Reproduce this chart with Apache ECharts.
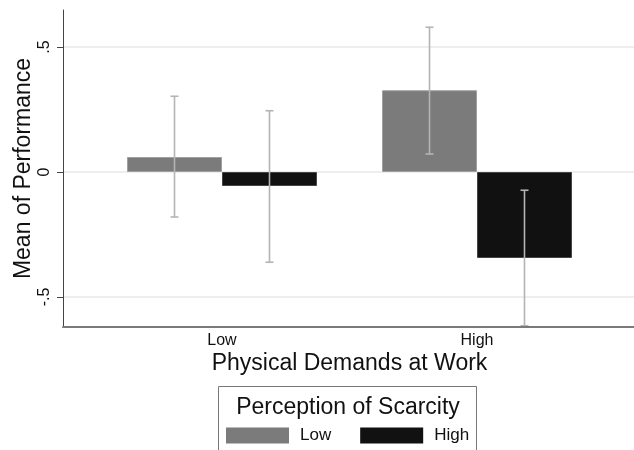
<!DOCTYPE html>
<html>
<head>
<meta charset="utf-8">
<script src="https://cdn.jsdelivr.net/npm/echarts@6/dist/echarts.min.js"></script>
<style>html,body{margin:0;padding:0;background:#fff}#c{width:634px;height:450px}</style>
</head>
<body>
<div id="c"></div>
<script>
var categories = ['Low', 'High'];
var seriesNames = ['Low', 'High'];
var lowScarcityMean = [0.06, 0.327];
var highScarcityMean = [-0.056, -0.344];
var lowScarcityCILow = [-0.18, 0.072];
var lowScarcityCIHigh = [0.303, 0.579];
var highScarcityCILow = [-0.361, -0.615];
var highScarcityCIHigh = [0.245, -0.073];
var yTickValues = [-0.5, 0, 0.5];
var yTickLabels = ['-.5', '0', '.5'];
var yMin = -0.62, yMax = 0.648;

var FONT = 'Liberation Sans';
var chart = echarts.init(document.getElementById('c'));
var catGap = 0.255;

function ciData(lo, hi) {
  return categories.map(function (c, i) { return [i, lo[i], hi[i]]; });
}
function errRender(sign) {
  return function (params, api) {
    var x = api.value(0);
    var p1 = api.coord([x, api.value(1)]);
    var p2 = api.coord([x, api.value(2)]);
    var band = api.size([1, 0])[0];
    var barW = band * (1 - catGap) / 2;
    var cx = p1[0] + sign * barW / 2;
    var cap = 4;
    var st = { stroke: '#b4b4b4', lineWidth: 1.6 };
    return {
      type: 'group',
      children: [
        { type: 'line', shape: { x1: cx, y1: p1[1], x2: cx, y2: p2[1] }, style: st },
        { type: 'line', shape: { x1: cx - cap, y1: p1[1], x2: cx + cap, y2: p1[1] }, style: st },
        { type: 'line', shape: { x1: cx - cap, y1: p2[1], x2: cx + cap, y2: p2[1] }, style: st }
      ]
    };
  };
}

var option = {
  animation: false,
  textStyle: { fontFamily: FONT },
  grid: [
    { left: 63, right: 0, top: 10, bottom: 123 },
    { left: 94.5, width: 510, top: 10, bottom: 123 }
  ],
  xAxis: [
    { gridIndex: 0, type: 'category', data: [''], axisLine: { onZero: false, lineStyle: { color: '#7a7a7a', width: 2 } },
      axisTick: { show: false }, axisLabel: { show: false }, splitLine: { show: false }, z: 10 },
    { gridIndex: 1, type: 'category', data: categories, axisLine: { show: false, onZero: false }, axisTick: { show: false },
      axisLabel: { fontSize: 16, color: '#111', margin: 6, fontFamily: FONT },
      name: 'Physical Demands at Work', nameLocation: 'middle', nameGap: 25, nameMoveOverlap: false,
      nameTextStyle: { fontSize: 23, color: '#111', fontFamily: FONT } }
  ],
  yAxis: [
    { gridIndex: 0, type: 'value', min: yMin, max: yMax,
      axisLine: { show: true, lineStyle: { color: '#444', width: 1 } },
      axisTick: { show: true, length: 6, customValues: yTickValues, lineStyle: { color: '#444' } },
      axisLabel: { customValues: yTickValues, rotate: 90, fontSize: 16, color: '#111', margin: 10, fontFamily: FONT,
        formatter: function (v) { var i = yTickValues.indexOf(v); return i >= 0 ? yTickLabels[i] : ''; } },
      splitLine: { show: true, lineStyle: { color: '#e8e8e8', width: 1.5 } },
      name: 'Mean of Performance', nameLocation: 'middle', nameGap: 28, nameMoveOverlap: false,
      nameTextStyle: { fontSize: 23, color: '#111', fontFamily: FONT } },
    { gridIndex: 1, type: 'value', min: yMin, max: yMax, show: false, splitLine: { show: false } }
  ],
  legend: {
    data: seriesNames.map(function (n) { return { name: n, icon: 'rect' }; }),
    left: 226, top: 427, itemWidth: 63, itemHeight: 16, itemGap: 29, padding: 0,
    itemStyle: { borderWidth: 0 },
    textStyle: { fontSize: 17, color: '#111', fontFamily: FONT, padding: [0, 0, 0, 6] }
  },
  graphic: [
    { type: 'rect', shape: { x: 218.5, y: 386.5, width: 258, height: 90 }, style: { fill: 'none', stroke: '#777', lineWidth: 1 } },
    { type: 'text', x: 348, y: 408, style: { text: 'Perception of Scarcity', fontSize: 23, fontFamily: FONT, fill: '#111', textAlign: 'center', textVerticalAlign: 'middle' } }
  ],
  series: [
    { name: seriesNames[0], type: 'bar', xAxisIndex: 1, yAxisIndex: 1, data: lowScarcityMean,
      barGap: '0%', barCategoryGap: (catGap * 100) + '%',
      itemStyle: { color: '#7b7b7b', borderColor: '#a0a0a0', borderWidth: 1 } },
    { name: seriesNames[1], type: 'bar', xAxisIndex: 1, yAxisIndex: 1, data: highScarcityMean,
      barGap: '0%', barCategoryGap: (catGap * 100) + '%',
      itemStyle: { color: '#111111', borderColor: '#444', borderWidth: 1 } },
    { type: 'custom', xAxisIndex: 1, yAxisIndex: 1, data: ciData(lowScarcityCILow, lowScarcityCIHigh),
      encode: { x: 0, y: [1, 2] }, renderItem: errRender(-1), z: 5, clip: true },
    { type: 'custom', xAxisIndex: 1, yAxisIndex: 1, data: ciData(highScarcityCILow, highScarcityCIHigh),
      encode: { x: 0, y: [1, 2] }, renderItem: errRender(1), z: 5, clip: true }
  ]
};
chart.setOption(option);
</script>
</body>
</html>
